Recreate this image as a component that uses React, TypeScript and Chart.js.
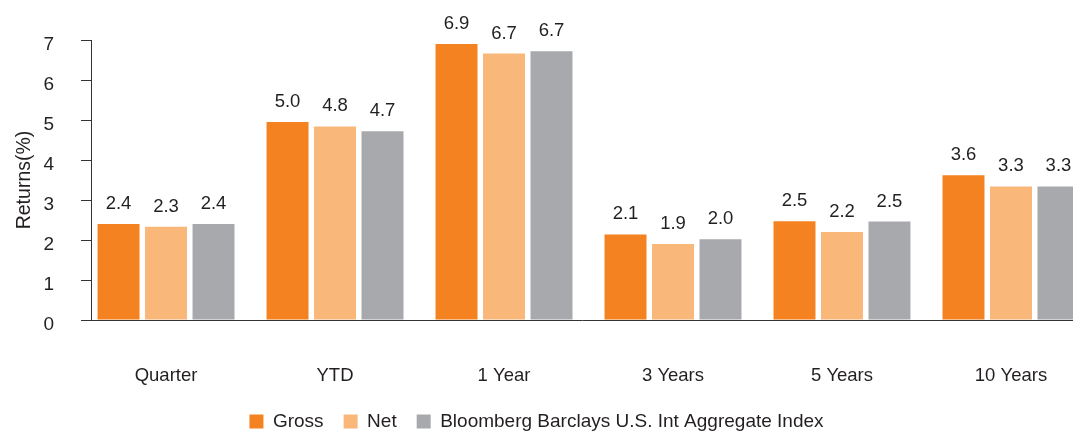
import React, { useEffect, useRef } from 'react';
import { Chart, registerables } from 'chart.js';

Chart.register(...registerables);

const categories = ['Quarter', 'YTD', '1 Year', '3 Years', '5 Years', '10 Years'];
const grossValues = [2.4, 4.95, 6.9, 2.14, 2.47, 3.62];
const netValues = [2.33, 4.84, 6.66, 1.9, 2.2, 3.34];
const indexValues = [2.4, 4.72, 6.72, 2.02, 2.46, 3.34];
const seriesNames = ['Gross', 'Net', 'Bloomberg Barclays U.S. Int Aggregate Index'];
const seriesColors = ['#F58220', '#F9B77A', '#A7A9AC'];
const yAxisTitle = 'Returns(%)';

const X_MIN = -0.444;
const X_MAX = 5.367;

const FONT = '"Liberation Sans", Arial, sans-serif';
const TEXT = '#231F20';
const AXIS = '#333333';

const valueLabels = {
  id: 'valueLabels',
  afterDatasetsDraw(chart: any) {
    const ctx = chart.ctx;
    ctx.save();
    ctx.font = `18.5px ${FONT}`;
    ctx.fillStyle = TEXT;
    ctx.textAlign = 'center';
    ctx.textBaseline = 'middle';
    chart.data.datasets.forEach((ds: any, di: number) => {
      const meta = chart.getDatasetMeta(di);
      meta.data.forEach((bar: any, i: number) => {
        const v = ds.data[i].y as number;
        ctx.fillText(v.toFixed(1), bar.x, bar.y - 20);
      });
    });
    ctx.restore();
  },
};

export default function App() {
  const ref = useRef<HTMLCanvasElement>(null);

  useEffect(() => {
    if (!ref.current) return;
    Chart.defaults.font.family = FONT;
    const series = [grossValues, netValues, indexValues];
    const chart = new Chart(ref.current, {
      type: 'bar',
      data: {
        datasets: series.map((vals, si) => ({
          label: seriesNames[si],
          data: vals.map((v, i) => ({ x: i, y: v })),
          backgroundColor: seriesColors[si],
          borderWidth: 0,
          categoryPercentage: 0.843,
          barPercentage: 0.884,
        })),
      },
      options: {
        animation: false,
        responsive: false,
        devicePixelRatio: 1,
        layout: { padding: { top: 40, left: 0, right: 0, bottom: 0 } },
        scales: {
          x: {
            type: 'linear',
            offset: false,
            bounds: 'data',
            min: X_MIN,
            max: X_MAX,
            afterBuildTicks: (s: any) => {
              s.ticks = categories.map((_, i) => ({ value: i }));
              s.min = X_MIN;
              s.max = X_MAX;
            },
            afterFit: (s: any) => {
              s.height = 72;
              s.paddingLeft = 0;
              s.paddingRight = 0;
            },
            ticks: {
              autoSkip: false,
              maxRotation: 0,
              padding: 45,
              color: TEXT,
              font: { size: 18.5 },
              callback: (v: any) => categories[v] ?? '',
            },
            grid: { offset: false, drawOnChartArea: false, drawTicks: false },
            border: { display: true, color: AXIS, width: 1 },
          },
          y: {
            min: 0,
            max: 7,
            afterFit: (s: any) => {
              s.width = 91;
            },
            ticks: {
              stepSize: 1,
              padding: 27,
              color: TEXT,
              font: { size: 19 },
              labelOffset: 5,
            },
            grid: { drawOnChartArea: false, drawTicks: true, tickLength: 10, color: AXIS },
            border: { display: true, color: AXIS, width: 1 },
            title: {
              display: true,
              text: yAxisTitle,
              color: TEXT,
              font: { size: 19.5 },
              padding: { top: 13, bottom: 0 },
            },
          },
        },
        plugins: {
          legend: {
            position: 'bottom',
            labels: {
              boxWidth: 14,
              boxHeight: 14,
              padding: 20,
              color: TEXT,
              font: { size: 19 },
            },
          },
          tooltip: { enabled: false },
        },
      },
      plugins: [valueLabels],
    } as any);
    return () => chart.destroy();
  }, []);

  return (
    <div
      style={{
        position: 'fixed',
        left: 0,
        top: 0,
        width: 1073,
        height: 435,
        overflow: 'hidden',
        background: '#fff',
      }}
    >
      <canvas ref={ref} width={1073} height={441} style={{ display: 'block', width: 1073, height: 441 }} />
    </div>
  );
}
